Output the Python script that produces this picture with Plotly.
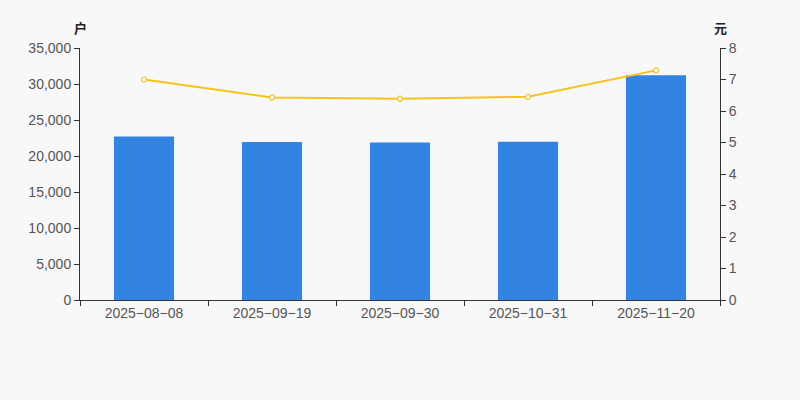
import plotly.graph_objects as go

# report dates, holder count (户) and average price (元)
dates = ["2025-08-08", "2025-09-19", "2025-09-30", "2025-10-31", "2025-11-20"]
holders = [22720, 21940, 21880, 21980, 31220]
price = [7.00, 6.43, 6.39, 6.45, 7.29]

# the reference draws the date separators as long dashes
date_labels = [d.replace("-", "\u2212") for d in dates]

fig = go.Figure()

fig.add_trace(go.Bar(
    x=dates, y=holders, name="股东户数",
    marker=dict(color="#3383e2", line=dict(width=0)),
    width=0.47,
))

fig.add_trace(go.Scatter(
    x=dates, y=price, name="股价", yaxis="y2",
    mode="lines+markers",
    line=dict(color="#f6c21a", width=2),
    marker=dict(size=5, color="#ffffff", line=dict(color="#f6c21a", width=1.2)),
))

axis_font = dict(family="Liberation Sans, Arial, sans-serif", size=14, color="#555555")
unit_font = dict(family="Noto Sans CJK SC", size=13, color="#222222")

fig.update_layout(
    width=800, height=400,
    margin=dict(l=80, r=80, t=48, b=100),
    paper_bgcolor="#f8f8f8", plot_bgcolor="#f8f8f8",
    showlegend=False,
    xaxis=dict(
        type="category", showgrid=False, showline=True, linecolor="#333333",
        ticks="outside", tickson="boundaries", ticklen=5, tickcolor="#333333",
        tickfont=axis_font, tickvals=dates, ticktext=date_labels,
    ),
    yaxis=dict(
        range=[0, 35000], dtick=5000, tickformat=",", showgrid=False,
        zeroline=False, showline=True, linecolor="#333333",
        ticks="outside", ticklen=5, tickcolor="#333333", tickfont=axis_font,
    ),
    yaxis2=dict(
        range=[0, 8], dtick=1, overlaying="y", side="right", showgrid=False,
        zeroline=False, showline=True, linecolor="#333333",
        ticks="outside", ticklen=5, tickcolor="#333333", tickfont=axis_font,
    ),
    annotations=[
        dict(text="<b>户</b>", xref="paper", yref="paper", x=0, y=1, xanchor="center",
             yanchor="middle", yshift=21, showarrow=False, font=unit_font),
        dict(text="<b>元</b>", xref="paper", yref="paper", x=1, y=1, xanchor="center",
             yanchor="middle", yshift=21, showarrow=False, font=unit_font),
    ],
)

fig.write_html("out.html", config={"displayModeBar": False},
               post_script="document.body.style.margin='0';")
